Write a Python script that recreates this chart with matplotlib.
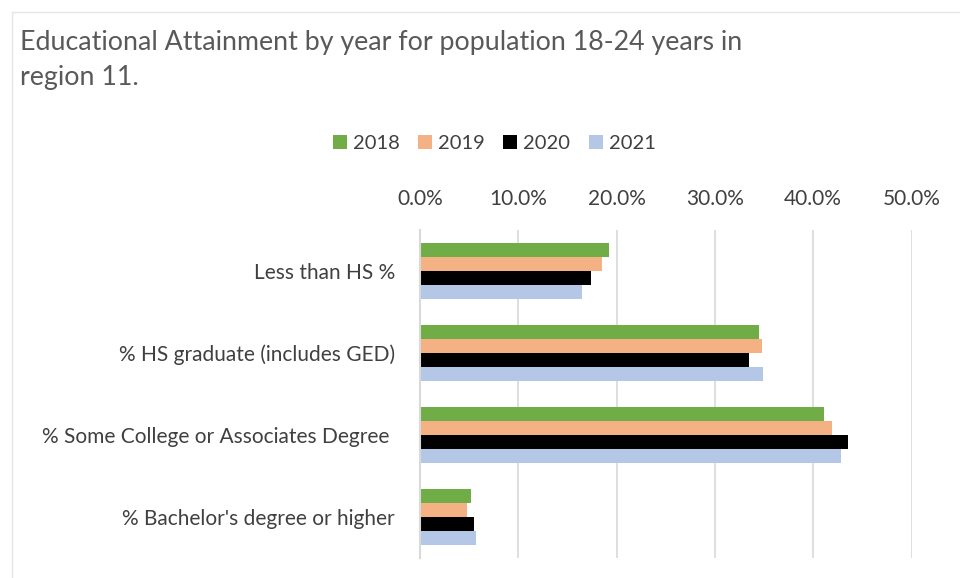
import matplotlib.pyplot as plt
import numpy as np
from matplotlib.ticker import PercentFormatter

plt.rcParams['font.family'] = ['Lato', 'DejaVu Sans']

categories = ["Less than HS %", "% HS graduate (includes GED)",
              "% Some College or Associates Degree ", "% Bachelor's degree or higher"]
years = ["2018", "2019", "2020", "2021"]
v2018 = [19.2, 34.5, 41.1, 5.2]
v2019 = [18.5, 34.8, 41.9, 4.8]
v2020 = [17.4, 33.5, 43.5, 5.5]
v2021 = [16.5, 34.9, 42.8, 5.7]
colors = ["#70AD47", "#F4B183", "#000000", "#B4C7E7"]

fig = plt.figure(figsize=(9.6, 5.78), dpi=100)
ax = fig.add_axes([0.4375, 0.035, 0.512, 0.567])

y = np.arange(len(categories))
h = 0.17
for i, (vals, yr) in enumerate(zip([v2018, v2019, v2020, v2021], years)):
    ax.barh(y - 1.5 * h + i * h, vals, height=h, color=colors[i], label=yr, zorder=3)

ax.set_xlim(0, 50)
ax.set_ylim(3.5, -0.5)
ax.set_xticks([0, 10, 20, 30, 40, 50])
ax.xaxis.set_major_formatter(PercentFormatter(decimals=1))
ax.xaxis.tick_top()
ax.set_yticks(y)
ax.set_yticklabels(categories)
ax.tick_params(axis='both', length=0, labelsize=15, colors="#404040")
ax.tick_params(axis='x', pad=15)
ax.tick_params(axis='y', pad=18)
ax.grid(axis='x', color="#D9D9D9", linewidth=1.2, zorder=0)
for s in ['top', 'right', 'bottom']:
    ax.spines[s].set_visible(False)
ax.spines['left'].set_color("#D9D9D9")
ax.spines['left'].set_linewidth(1.5)
ax.spines['left'].set_zorder(4)

fig.text(0.021, 0.948, "Educational Attainment by year for population 18-24 years in\nregion 11.",
         fontsize=19.3, color="#595959", va='top', linespacing=1.5)

fig.legend(loc='center', bbox_to_anchor=(0.515, 0.751), ncol=4, frameon=False,
           fontsize=14.5, handlelength=0.7, handleheight=0.7, handletextpad=0.3,
           columnspacing=0.9, labelcolor="#404040")

# chart border
fig.add_artist(plt.Line2D([0.0125, 0.0125], [0, 0.98], color="#E6E6E6", linewidth=1))
fig.add_artist(plt.Line2D([0.0125, 1], [0.98, 0.98], color="#E6E6E6", linewidth=1))

fig.savefig("out.png", dpi=100)
